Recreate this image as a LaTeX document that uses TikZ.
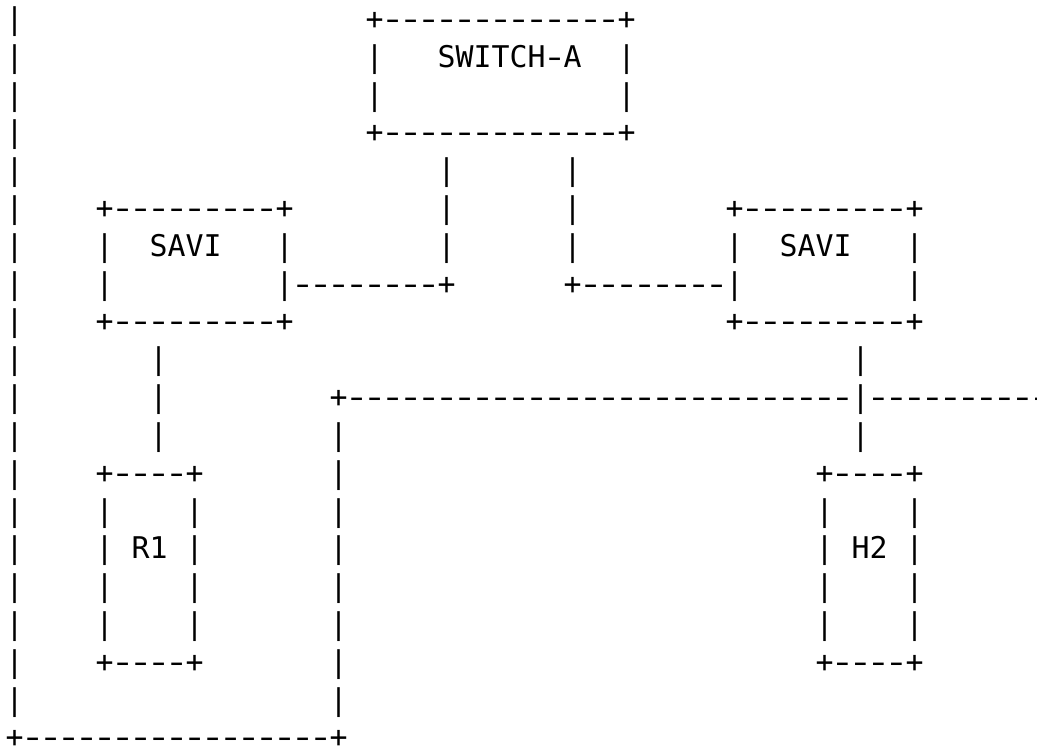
\documentclass[tikz,border=0pt]{standalone}
\usepackage{graphicx}
\usepackage{fontspec}
\setmonofont{DejaVu Sans Mono}
\newlength\cw
\setlength\cw{13.498pt}
\newcommand\sk[1]{\hspace*{#1\cw}}
\newcommand\hyph{\makebox[\cw]{\scalebox{1.4}[1]{-}}}
\ExplSyntaxOn
\cs_new:Npn \dd #1 {\prg_replicate:nn{#1}{\hyph}}
\ExplSyntaxOff
\tikzset{
  asciirow/.style={anchor=base west, inner sep=0pt, outer sep=0pt,
    font=\ttfamily\fontsize{22.42pt}{28pt}\selectfont, text=black}
}
\begin{document}
\begin{tikzpicture}[x=0.75pt,y=-0.75pt]
\useasboundingbox[fill=white] (0,0) rectangle (1037,745);
\def\rowy#1{29.5+37.81*#1}
\node[asciirow] (r0) at (5.7,{\rowy{0}}) {|\sk{19}+\dd{13}+};
\node[asciirow] (r1) at (5.7,{\rowy{1}}) {|\sk{19}|\sk{3}SWITCH\hyph A\sk{2}|};
\node[asciirow] (r2) at (5.7,{\rowy{2}}) {|\sk{19}|\sk{13}|};
\node[asciirow] (r3) at (5.7,{\rowy{3}}) {|\sk{19}+\dd{13}+};
\node[asciirow] (r4) at (5.7,{\rowy{4}}) {|\sk{23}|\sk{6}|};
\node[asciirow] (r5) at (5.7,{\rowy{5}}) {|\sk{4}+\dd{9}+\sk{8}|\sk{6}|\sk{8}+\dd{9}+};
\node[asciirow] (r6) at (5.7,{\rowy{6}}) {|\sk{4}|\sk{2}SAVI\sk{3}|\sk{8}|\sk{6}|\sk{8}|\sk{2}SAVI\sk{3}|};
\node[asciirow] (r7) at (5.7,{\rowy{7}}) {|\sk{4}|\sk{9}|\dd{8}+\sk{6}+\dd{8}|\sk{9}|};
\node[asciirow] (r8) at (5.7,{\rowy{8}}) {|\sk{4}+\dd{9}+\sk{24}+\dd{9}+};
\node[asciirow] (r9) at (5.7,{\rowy{9}}) {|\sk{7}|\sk{38}|};
\node[asciirow] (r10) at (5.7,{\rowy{10}}) {|\sk{7}|\sk{9}+\dd{28}|\dd{10}};
\node[asciirow] (r11) at (5.7,{\rowy{11}}) {|\sk{7}|\sk{9}|\sk{28}|};
\node[asciirow] (r12) at (5.7,{\rowy{12}}) {|\sk{4}+\dd{4}+\sk{7}|\sk{26}+\dd{4}+};
\node[asciirow] (r13) at (5.7,{\rowy{13}}) {|\sk{4}|\sk{4}|\sk{7}|\sk{26}|\sk{4}|};
\node[asciirow] (r14) at (5.7,{\rowy{14}}) {|\sk{4}|\sk{1}R1\sk{1}|\sk{7}|\sk{26}|\sk{1}H2\sk{1}|};
\node[asciirow] (r15) at (5.7,{\rowy{15}}) {|\sk{4}|\sk{4}|\sk{7}|\sk{26}|\sk{4}|};
\node[asciirow] (r16) at (5.7,{\rowy{16}}) {|\sk{4}|\sk{4}|\sk{7}|\sk{26}|\sk{4}|};
\node[asciirow] (r17) at (5.7,{\rowy{17}}) {|\sk{4}+\dd{4}+\sk{7}|\sk{26}+\dd{4}+};
\node[asciirow] (r18) at (5.7,{\rowy{18}}) {|\sk{17}|};
\node[asciirow] (r19) at (5.7,{\rowy{19}}) {+\dd{17}+};
\end{tikzpicture}
\end{document}
